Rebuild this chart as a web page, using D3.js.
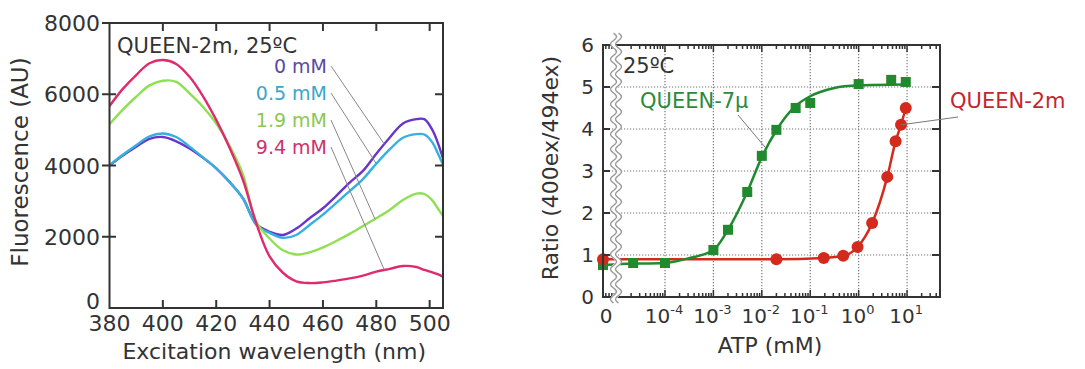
<!DOCTYPE html>
<html lang="en">
	<head>
		<meta charset="utf-8">
		<title>QUEEN ATP sensors</title>
		<script type="text/javascript" src="https://cdn.jsdelivr.net/npm/d3@7"></script>
		<style type="text/css">
			body { margin: 0; background: #fff; }
			svg text { font-family: "DejaVu Sans", sans-serif; fill: #333; }
		</style>
	</head>
	<body>
		<script type="text/javascript">

			var width = 1085;
			var height = 369;

			// excitation spectra of QUEEN-2m at four ATP concentrations
			var wavelengths = [380, 385, 390, 395, 400, 405, 410, 415, 420, 425, 430, 435, 440, 445, 450,
				455, 460, 465, 470, 475, 480, 485, 490, 495, 498, 501, 503, 505];
			var conc0 = [4000, 4280, 4530, 4750, 4800, 4680, 4480, 4220, 3920, 3540, 3080, 2360, 2140, 2050, 2230,
				2520, 2800, 3150, 3520, 3850, 4330, 4780, 5180, 5300, 5300, 5000, 4650, 4200];
			var conc05 = [4010, 4300, 4570, 4820, 4900, 4800, 4530, 4230, 3920, 3530, 3080, 2330, 2110, 1970, 2050,
				2330, 2620, 2950, 3280, 3620, 4050, 4450, 4780, 4880, 4870, 4650, 4350, 4020];
			var conc19 = [5160, 5570, 5930, 6250, 6380, 6350, 6025, 5650, 5180, 4550, 3750, 2420, 1950, 1620, 1500,
				1560, 1700, 1880, 2080, 2300, 2520, 2750, 3030, 3210, 3200, 3020, 2800, 2580];
			var conc94 = [5670, 6150, 6540, 6870, 6960, 6850, 6490, 5950, 5280, 4500, 3600, 2380, 1450, 990, 750,
				700, 720, 770, 830, 910, 1020, 1100, 1180, 1150, 1070, 1000, 950, 880];

			var specLabels = ["0 mM", "0.5 mM", "1.9 mM", "9.4 mM"];
			var specLeaderAt = [483, 480, 479.5, 483];
			var specColors = ["#6a35c8", "#35b0e0", "#8ee050", "#e02a6e"];
			var specTextColors = ["#5a4aa0", "#3aa6cc", "#8cc850", "#d0306a"];

			// ATP titration (ratio 400ex/494ex)
			var atpGreen = [0, 2.2e-5, 1e-4, 1e-3, 2e-3, 5e-3, 1e-2, 2e-2, 5e-2, 1e-1, 1, 4.7, 9.4];
			var ratioGreen = [0.76, 0.81, 0.81, 1.12, 1.6, 2.5, 3.36, 3.98, 4.5, 4.62, 5.07, 5.17, 5.12];
			var fitAtpGreen = [0, 1e-5, 1e-4, 3e-4, 1e-3, 2e-3, 5e-3, 1e-2, 2e-2, 5e-2, 1e-1, 3e-1, 1, 9.4];
			var fitRatioGreen = [0.76, 0.78, 0.81, 0.92, 1.12, 1.6, 2.5, 3.33, 3.97, 4.55, 4.78, 4.97, 5.04, 5.06];

			var atpRed = [0, 0.02, 0.19, 0.48, 0.95, 1.9, 3.9, 5.8, 7.5, 9.4];
			var ratioRed = [0.9, 0.9, 0.93, 0.98, 1.19, 1.76, 2.86, 3.71, 4.1, 4.5];

			var decades = [-4, -3, -2, -1, 0, 1];

			//create svg element
			var svg = d3.select("body")
						.append("svg")
						.attr("width", width)
						.attr("height", height);

			/* ---------- left panel: spectra ---------- */

			var xWave = d3.scaleLinear().domain([380, 505]).range([109.5, 443]);
			var yFluo = d3.scaleLinear().domain([0, 8000]).range([308, 23]);

			var left = svg.append("g");

			var spectra = [conc0, conc05, conc19, conc94];

			var specLine = d3.line()
				.x(function(d, i) { return xWave(wavelengths[i]); })
				.y(function(d) { return yFluo(d); })
				.curve(d3.curveCatmullRom);

			left.append("defs").append("clipPath").attr("id", "clipL")
				.append("rect")
				.attr("x", xWave(380)).attr("y", yFluo(8000))
				.attr("width", xWave(505) - xWave(380)).attr("height", yFluo(0) - yFluo(8000));

			left.selectAll("path.spec").data(spectra).enter()
				.append("path")
				.attr("class", "spec")
				.attr("clip-path", "url(#clipL)")
				.attr("d", specLine)
				.attr("fill", "none")
				.attr("stroke", function(d, i) { return specColors[i]; })
				.attr("stroke-width", 2.4);

			// value of a spectrum at any wavelength (linear between samples)
			function specAt(values, w) {
				var i = d3.bisectRight(wavelengths, w);
				if (i <= 0) return values[0];
				if (i >= wavelengths.length) return values[values.length - 1];
				var t = (w - wavelengths[i - 1]) / (wavelengths[i] - wavelengths[i - 1]);
				return values[i - 1] + t * (values[i] - values[i - 1]);
			}

			// concentration labels and leader lines
			for (var k = 0; k < specLabels.length; k++) {
				var by = 73 + k * 27;
				left.append("text")
					.attr("x", 327)
					.attr("y", by)
					.attr("text-anchor", "end")
					.style("font-size", "19px")
					.style("fill", specTextColors[k])
					.text(specLabels[k]);
				left.append("line")
					.attr("x1", 331).attr("y1", by - 7)
					.attr("x2", xWave(specLeaderAt[k]))
					.attr("y2", yFluo(specAt(spectra[k], specLeaderAt[k])))
					.attr("stroke", "#888")
					.attr("stroke-width", 1);
			}

			left.append("text")
				.attr("x", 117).attr("y", 53)
				.style("font-size", "21px")
				.text("QUEEN-2m, 25\u00baC");

			// frame
			left.append("rect")
				.attr("x", xWave(380)).attr("y", yFluo(8000))
				.attr("width", xWave(505) - xWave(380)).attr("height", yFluo(0) - yFluo(8000))
				.attr("fill", "none").attr("stroke", "#333").attr("stroke-width", 2);

			var waveTicks = [400, 420, 440, 460, 480, 500];
			waveTicks.forEach(function(w) {
				left.append("line").attr("x1", xWave(w)).attr("x2", xWave(w))
					.attr("y1", yFluo(0)).attr("y2", yFluo(0) - 8)
					.attr("stroke", "#333").attr("stroke-width", 2);
				left.append("line").attr("x1", xWave(w)).attr("x2", xWave(w))
					.attr("y1", yFluo(8000)).attr("y2", yFluo(8000) + 8)
					.attr("stroke", "#333").attr("stroke-width", 2);
			});
			[380].concat(waveTicks).forEach(function(w) {
				left.append("text")
					.attr("x", xWave(w)).attr("y", 331)
					.attr("text-anchor", "middle")
					.style("font-size", "22px")
					.text(w);
			});

			var fluoTicks = [0, 2000, 4000, 6000, 8000];
			fluoTicks.forEach(function(v) {
				if (v > 0) {
					left.append("line").attr("x1", 102).attr("x2", 116)
						.attr("y1", yFluo(v)).attr("y2", yFluo(v))
						.attr("stroke", "#333").attr("stroke-width", 2);
				}
				if (v > 0 && v < 8000) {
					left.append("line").attr("x1", xWave(505)).attr("x2", xWave(505) - 8)
						.attr("y1", yFluo(v)).attr("y2", yFluo(v))
						.attr("stroke", "#333").attr("stroke-width", 2);
				}
				left.append("text")
					.attr("x", 100).attr("y", yFluo(v) + (v === 0 ? 1 : 8))
					.attr("text-anchor", "end")
					.style("font-size", "22px")
					.text(v);
			});

			left.append("text")
				.attr("x", (xWave(380) + xWave(505)) / 2 - 2).attr("y", 359)
				.attr("text-anchor", "middle")
				.style("font-size", "22px")
				.text("Excitation wavelength (nm)");

			left.append("text")
				.attr("transform", "translate(28,162) rotate(-90)")
				.attr("text-anchor", "middle")
				.style("font-size", "23px")
				.text("Fluorescence (AU)");

			/* ---------- right panel: ATP titration ---------- */

			var xLog = d3.scaleLog().domain([Math.pow(10, -5.28), Math.pow(10, 1.68)]).range([603, 940]);
			var yRatio = d3.scaleLinear().domain([0, 6]).range([297, 45]);

			// zero ATP sits on the left edge of the broken log axis
			function xAtp(v) { return v === 0 ? xLog.range()[0] : xLog(v); }

			var right = svg.append("g");

			// dotted grid
			decades.forEach(function(e) {
				right.append("line")
					.attr("x1", xLog(Math.pow(10, e))).attr("x2", xLog(Math.pow(10, e)))
					.attr("y1", yRatio(6)).attr("y2", yRatio(0))
					.attr("stroke", "#777").attr("stroke-width", 1.2)
					.attr("stroke-dasharray", "1.2,1.8");
			});
			[1, 2, 3, 4, 5].forEach(function(v) {
				right.append("line")
					.attr("x1", xLog.range()[0]).attr("x2", xLog.range()[1])
					.attr("y1", yRatio(v)).attr("y2", yRatio(v))
					.attr("stroke", "#777").attr("stroke-width", 1.2)
					.attr("stroke-dasharray", "1.2,1.8");
			});

			var ptLine = d3.line()
				.x(function(d) { return xAtp(d[0]); })
				.y(function(d) { return yRatio(d[1]); })
				.curve(d3.curveMonotoneX);

			right.append("path")
				.attr("d", ptLine(d3.zip(atpRed, ratioRed)))
				.attr("fill", "none").attr("stroke", "#d42a1e").attr("stroke-width", 2.5);

			right.append("path")
				.attr("d", ptLine(d3.zip(fitAtpGreen, fitRatioGreen)))
				.attr("fill", "none").attr("stroke", "#1f8a2e").attr("stroke-width", 2.5);

			right.selectAll("rect.sq").data(d3.zip(atpGreen, ratioGreen)).enter()
				.append("rect")
				.attr("class", "sq")
				.attr("x", function(d) { return xAtp(d[0]) - 5; })
				.attr("y", function(d) { return yRatio(d[1]) - 5; })
				.attr("width", 10).attr("height", 10)
				.attr("fill", "#1f8a2e");

			right.selectAll("circle").data(d3.zip(atpRed, ratioRed)).enter()
				.append("circle")
				.attr("cx", function(d) { return xAtp(d[0]); })
				.attr("cy", function(d) { return yRatio(d[1]); })
				.attr("r", 6)
				.attr("fill", "#d42a1e");

			// frame
			right.append("rect")
				.attr("x", xLog.range()[0]).attr("y", yRatio(6))
				.attr("width", xLog.range()[1] - xLog.range()[0]).attr("height", yRatio(0) - yRatio(6))
				.attr("fill", "none").attr("stroke", "#333").attr("stroke-width", 2);

			// log ticks, major at decades and minor in between, on top and bottom
			for (var e = -6; e <= 1; e++) {
				for (var m = 1; m <= 9; m++) {
					var v = m * Math.pow(10, e);
					var px = xLog(v);
					if (px < xLog.range()[0] + 2 || px > xLog.range()[1] - 2) continue;
					var len = m === 1 ? 7 : 4;
					right.append("line").attr("x1", px).attr("x2", px)
						.attr("y1", yRatio(0)).attr("y2", yRatio(0) - len)
						.attr("stroke", "#333").attr("stroke-width", 1.5);
					right.append("line").attr("x1", px).attr("x2", px)
						.attr("y1", yRatio(6)).attr("y2", yRatio(6) + len)
						.attr("stroke", "#333").attr("stroke-width", 1.5);
				}
			}
			[1, 2, 3, 4, 5].forEach(function(v) {
				right.append("line").attr("x1", xLog.range()[0]).attr("x2", xLog.range()[0] + 7)
					.attr("y1", yRatio(v)).attr("y2", yRatio(v))
					.attr("stroke", "#333").attr("stroke-width", 2);
				right.append("line").attr("x1", xLog.range()[1]).attr("x2", xLog.range()[1] - 8)
					.attr("y1", yRatio(v)).attr("y2", yRatio(v))
					.attr("stroke", "#333").attr("stroke-width", 2);
			});

			// axis break drawn as a wavy double line
			var wave = d3.range(33, 304, 1).map(function(y) {
				return [616 + 3 * Math.sin(2 * Math.PI * (y - 33) / 15), y];
			});
			var waveLine = d3.line().curve(d3.curveBasis);
			right.append("path").attr("d", waveLine(wave))
				.attr("fill", "none").attr("stroke", "#fff").attr("stroke-width", 5);
			[-2.5, 2.5].forEach(function(off) {
				right.append("path")
					.attr("d", waveLine(wave.map(function(p) { return [p[0] + off, p[1]]; })))
					.attr("fill", "none").attr("stroke", "#999").attr("stroke-width", 1.4);
			});

			// tick labels
			[0, 1, 2, 3, 4, 5, 6].forEach(function(v) {
				right.append("text")
					.attr("x", 594).attr("y", yRatio(v) + 7)
					.attr("text-anchor", "end")
					.style("font-size", "20px")
					.text(v);
			});
			right.append("text")
				.attr("x", 606).attr("y", 323)
				.attr("text-anchor", "middle")
				.style("font-size", "20px")
				.text("0");
			decades.forEach(function(e) {
				var t = right.append("text")
					.attr("x", xLog(Math.pow(10, e)) - 1).attr("y", 323)
					.attr("text-anchor", "middle")
					.style("font-size", "20px");
				t.append("tspan").text("10");
				t.append("tspan").attr("dy", -9).style("font-size", "13px").text(e);
			});

			right.append("text")
				.attr("x", 770).attr("y", 353)
				.attr("text-anchor", "middle")
				.style("font-size", "22px")
				.text("ATP (mM)");

			right.append("text")
				.attr("transform", "translate(558,168) rotate(-90)")
				.attr("text-anchor", "middle")
				.style("font-size", "22px")
				.text("Ratio (400ex/494ex)");

			right.append("text")
				.attr("x", 623).attr("y", 73)
				.style("font-size", "21px")
				.text("25\u00baC");

			// sensor labels with leader lines
			right.append("text")
				.attr("x", 640).attr("y", 108)
				.style("font-size", "21px")
				.style("fill", "#2a8c3a")
				.text("QUEEN-7\u03bc");
			right.append("line")
				.attr("x1", 738).attr("y1", 115)
				.attr("x2", xLog(1.2e-2)).attr("y2", yRatio(3.55))
				.attr("stroke", "#777").attr("stroke-width", 1);

			right.append("text")
				.attr("x", 950).attr("y", 108)
				.style("font-size", "21px")
				.style("fill", "#c4262e")
				.text("QUEEN-2m");
			right.append("line")
				.attr("x1", 958).attr("y1", 117)
				.attr("x2", xAtp(atpRed[8])).attr("y2", yRatio(ratioRed[8]))
				.attr("stroke", "#777").attr("stroke-width", 1);

		</script>
	</body>
</html>
